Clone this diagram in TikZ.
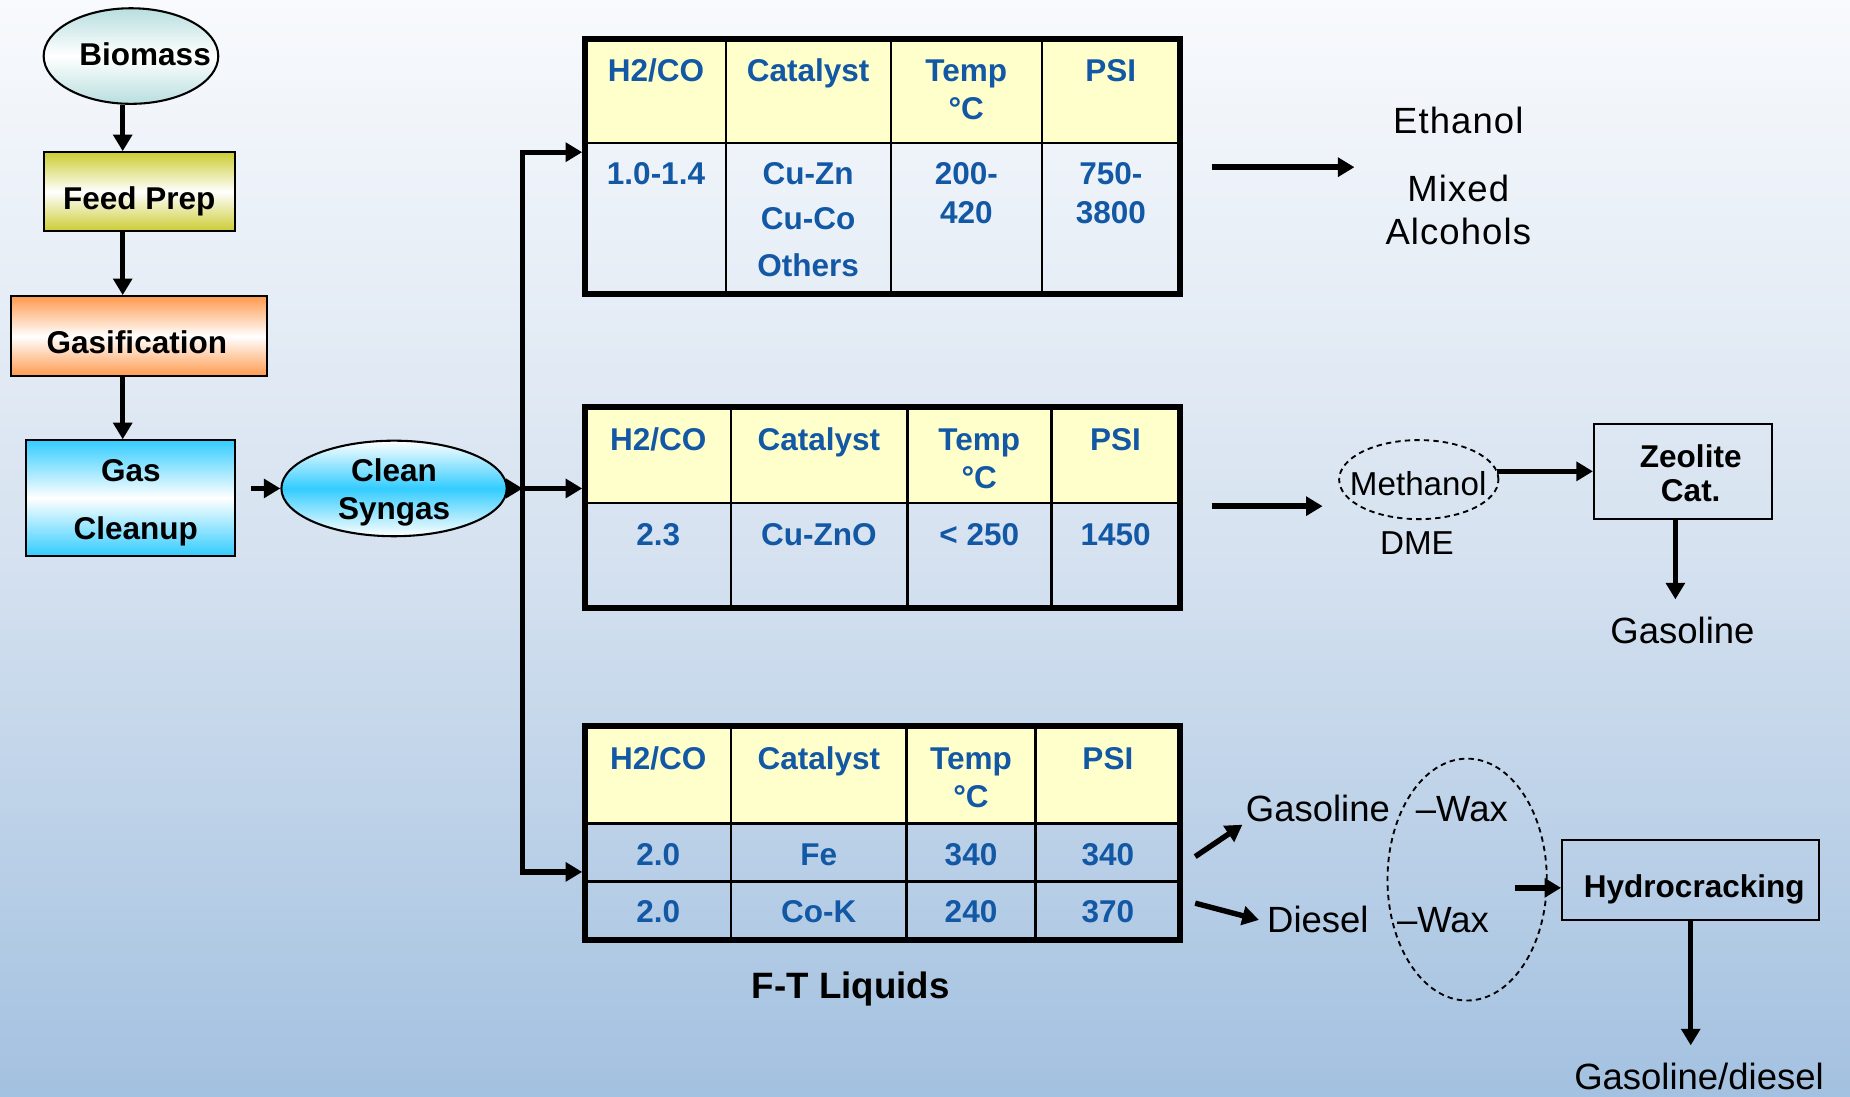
\documentclass[tikz,border=0pt]{standalone}
\usepackage{fontspec}
\setmainfont{Liberation Sans}
\newfontfamily\spacedfont[LetterSpace=3]{Liberation Sans}
\usetikzlibrary{arrows.meta,shapes.geometric}
\definecolor{bgtop}{RGB}{248,250,253}
\definecolor{bgmid}{RGB}{214,226,240}
\definecolor{bgbot}{RGB}{163,193,224}
\definecolor{tblue}{RGB}{18,88,165}
\definecolor{hdryellow}{RGB}{255,255,204}
\definecolor{bioteal}{RGB}{184,222,222}
\definecolor{feedolive}{RGB}{204,204,51}
\definecolor{gasorange}{RGB}{255,153,77}
\definecolor{cleancyan}{RGB}{51,204,255}
\newcommand\pxu{0.02cm}
\begin{document}
\begin{tikzpicture}[x=0.02cm,y=-0.02cm,
  arr/.style={line width=2.6pt,-{Triangle[length=8pt,width=9pt]}},
  flowbox/.style={draw,line width=1pt,inner sep=0pt},
  boxtxt/.style={inner sep=0pt,text height=10.9pt,text depth=0pt,font=\fontsize{15.2}{18}\selectfont\bfseries},
  tbltxt/.style={boxtxt,text=tblue},
  bigbold/.style={inner sep=0pt,text height=12.7pt,text depth=0pt,font=\fontsize{17.7}{21}\selectfont\bfseries},
  regtxt/.style={inner sep=0pt,text height=12.6pt,text depth=0pt,font=\fontsize{17.6}{21}\selectfont},
  spacedtxt/.style={inner sep=0pt,text height=12.6pt,text depth=0pt,font=\spacedfont\fontsize{17.6}{21}\selectfont},
  smalltxt/.style={inner sep=0pt,text height=11.5pt,text depth=0pt,font=\fontsize{16}{19}\selectfont},
  tframe/.style={draw,line width=2.9pt,inner sep=0pt},
  cell/.style={line width=1.2pt},
  dashell/.style={ellipse,draw,line width=0.9pt,dash pattern=on 2.6pt off 2pt,inner sep=0pt}
]
\useasboundingbox (0,0) rectangle (1568,929);
\shade[top color=bgtop,bottom color=bgbot,middle color=bgmid] (0,0) rectangle (1568,929);

% ---------- left column ----------
\coordinate (ax) at (104,0);
\node[flowbox,ellipse,top color=bioteal,bottom color=bioteal,middle color=white,
      minimum width=148*\pxu,minimum height=81*\pxu] (biomass) at (111,47.5) {};
\node[boxtxt] (biomasstxt) at (123,46) {Biomass};

\node[flowbox,top color=feedolive,bottom color=feedolive,middle color=white,
      minimum width=162*\pxu,minimum height=67*\pxu] (feed) at (118,162.5) {};
\node[boxtxt] (feedtxt) at (118,168) {Feed Prep};

\node[flowbox,top color=gasorange,bottom color=gasorange,middle color=white,
      minimum width=217*\pxu,minimum height=68*\pxu] (gasif) at (117.5,285) {};
\node[boxtxt] (gasiftxt) at (116,290) {Gasification};

\node[flowbox,line width=0.8pt,top color=cleancyan,bottom color=cleancyan,middle color=white,
      minimum width=177*\pxu,minimum height=98*\pxu] (cleanup) at (110.5,422) {};
\node[boxtxt] (cleanuptxt1) at (111,398.5) {Gas};
\node[boxtxt] (cleanuptxt2) at (115,447.5) {Cleanup};

\node[flowbox,ellipse,top color=white,bottom color=white,middle color=cleancyan,
      minimum width=191*\pxu,minimum height=81*\pxu] (syngas) at (334,414) {};
\node[boxtxt] (syngastxt1) at (334,398.5) {Clean};
\node[boxtxt] (syngastxt2) at (334,430.5) {Syngas};

\draw[arr] (biomass.south -| ax) -- (feed.north -| ax);
\draw[arr] (feed.south -| ax) -- (gasif.north -| ax);
\draw[arr] (gasif.south -| ax) -- (cleanup.north -| ax);
\coordinate (gcout) at (213,414);
\draw[arr] (gcout) -- (syngas.west);

% ---------- tables ----------
% table 1
\fill[hdryellow] (496,33) rectangle (1000,121);
\draw[cell] (496,121) -- (1000,121);
\draw[cell] (615.5,33) -- (615.5,249) (755,33) -- (755,249) (883,33) -- (883,249);
\node[tframe,minimum width=504*\pxu,minimum height=216*\pxu] (t1) at (748,141) {};
\node[tbltxt] (t1h1) at (556,59.5) {H2/CO};
\node[tbltxt] (t1h2) at (685,59.5) {Catalyst};
\node[tbltxt] (t1h3) at (819,59.5) {Temp};
\node[tbltxt] (t1h3b) at (819,92) {°C};
\node[tbltxt] (t1h4) at (941.5,59.5) {PSI};
\node[tbltxt] (t1a) at (556,146.5) {1.0-1.4};
\node[tbltxt] (t1b1) at (685,146.5) {Cu-Zn};
\node[tbltxt] (t1b2) at (685,185) {Cu-Co};
\node[tbltxt] (t1b3) at (685,224.5) {Others};
\node[tbltxt] (t1c1) at (819,146.5) {200-};
\node[tbltxt] (t1c2) at (819,179.5) {420};
\node[tbltxt] (t1d1) at (941.5,146.5) {750-};
\node[tbltxt] (t1d2) at (941.5,179.5) {3800};

% table 2
\fill[hdryellow] (496,345) rectangle (1000,426.5);
\draw[cell] (496,426.5) -- (1000,426.5);
\draw[cell] (619.5,345) -- (619.5,515.5) (769,345) -- (769,515.5) (891,345) -- (891,515.5);
\node[tframe,minimum width=504*\pxu,minimum height=170.5*\pxu] (t2) at (748,430.25) {};
\node[tbltxt] (t2h1) at (558,372) {H2/CO};
\node[tbltxt] (t2h2) at (694,372) {Catalyst};
\node[tbltxt] (t2h3) at (830,372) {Temp};
\node[tbltxt] (t2h3b) at (830,404.3) {°C};
\node[tbltxt] (t2h4) at (945.5,372) {PSI};
\node[tbltxt] (t2a) at (558,452.6) {2.3};
\node[tbltxt] (t2b) at (694,452.6) {Cu-ZnO};
\node[tbltxt] (t2c) at (830,452.6) {< 250};
\node[tbltxt] (t2d) at (945.5,452.6) {1450};

% table 3
\fill[hdryellow] (496,615.5) rectangle (1000,698);
\draw[cell] (496,698) -- (1000,698) (496,747) -- (1000,747);
\draw[cell] (619.5,615.5) -- (619.5,797) (768.5,615.5) -- (768.5,797) (877.5,615.5) -- (877.5,797);
\node[tframe,minimum width=504*\pxu,minimum height=181.5*\pxu] (t3) at (748,706.25) {};
\node[tbltxt] (t3h1) at (558,643) {H2/CO};
\node[tbltxt] (t3h2) at (694,643) {Catalyst};
\node[tbltxt] (t3h3) at (823,643) {Temp};
\node[tbltxt] (t3h3b) at (823,674.5) {°C};
\node[tbltxt] (t3h4) at (939,643) {PSI};
\node[tbltxt] (t3a1) at (558,723.7) {2.0};
\node[tbltxt] (t3b1) at (694,723.7) {Fe};
\node[tbltxt] (t3c1) at (823,723.7) {340};
\node[tbltxt] (t3d1) at (939,723.7) {340};
\node[tbltxt] (t3a2) at (558,772) {2.0};
\node[tbltxt] (t3b2) at (694,772) {Co-K};
\node[tbltxt] (t3c2) at (823,772) {240};
\node[tbltxt] (t3d2) at (939,772) {370};
\node[bigbold] (ftl) at (721,835) {F-T Liquids};

% trunk
\coordinate (ttop) at (443,129);
\coordinate (tmid) at (443,414);
\coordinate (tbot) at (443,739);
\draw[arr] (syngas.east) -- (tmid);
\draw[arr,line join=miter] (tmid) |- (t1.west |- ttop);
\draw[arr,line join=miter] (tmid) |- (t3.west |- tbot);
\draw[arr] (tmid) -- (t2.west |- tmid);

% ---------- right: alcohols ----------
\coordinate (a1s) at (1027,141.7);
\coordinate (a1e) at (1148,141.7);
\draw[arr] (a1s) -- (a1e);
\node[spacedtxt] (eth) at (1236,102) {Ethanol};
\node[spacedtxt] (mix1) at (1236,159.5) {Mixed};
\node[spacedtxt] (mix2) at (1236,196.5) {Alcohols};

% ---------- right: methanol ----------
\coordinate (a2s) at (1027,429);
\coordinate (a2e) at (1121,429);
\draw[arr] (a2s) -- (a2e);
\node[dashell,minimum width=135*\pxu,minimum height=67*\pxu] (meth) at (1202.5,406.5) {};
\node[smalltxt] (methtxt) at (1202,409.6) {Methanol};
\node[smalltxt] (dme) at (1201,459.8) {DME};
\node[flowbox,minimum width=151*\pxu,minimum height=81*\pxu] (zeo) at (1426.5,399.5) {};
\node[boxtxt] (zeotxt1) at (1433,387) {Zeolite};
\node[boxtxt] (zeotxt2) at (1433,415.3) {Cat.};
\coordinate (methout) at (1269,399.5);
\draw[arr] (methout) -- (zeo.west);
\coordinate (zx) at (1420,0);
\node[regtxt] (gasB) at (1426,534) {Gasoline};
\coordinate (gasBin) at (1420,508);
\draw[arr] (zeo.south -| zx) -- (gasBin);

% ---------- right: F-T products ----------
\coordinate (d1s) at (1013,726);
\coordinate (d1e) at (1053,699);
\coordinate (d2s) at (1013,765.5);
\coordinate (d2e) at (1067,779.7);
\draw[arr] (d1s) -- (d1e);
\draw[arr] (d2s) -- (d2e);
\node[regtxt] (gasC) at (1117,685) {Gasoline};
\node[regtxt] (wax1) at (1239,685) {–Wax};
\node[regtxt] (dies) at (1117,779.7) {Diesel};
\node[regtxt] (wax2) at (1223,779.7) {–Wax};
\node[dashell,minimum width=135*\pxu,minimum height=205*\pxu] (waxell) at (1243.5,745.5) {};
\node[flowbox,minimum width=218*\pxu,minimum height=68*\pxu] (hydro) at (1433,746) {};
\node[boxtxt] (hydrotxt) at (1436,751.5) {Hydrocracking};
\coordinate (waxout) at (1284,752.5);
\draw[arr] (waxout) -- (hydro.west |- waxout);
\coordinate (hx) at (1433,0);
\node[regtxt] (gasdies) at (1440,912) {Gasoline/diesel};
\coordinate (gdin) at (1433,886);
\draw[arr] (hydro.south -| hx) -- (gdin);
\end{tikzpicture}
\end{document}
